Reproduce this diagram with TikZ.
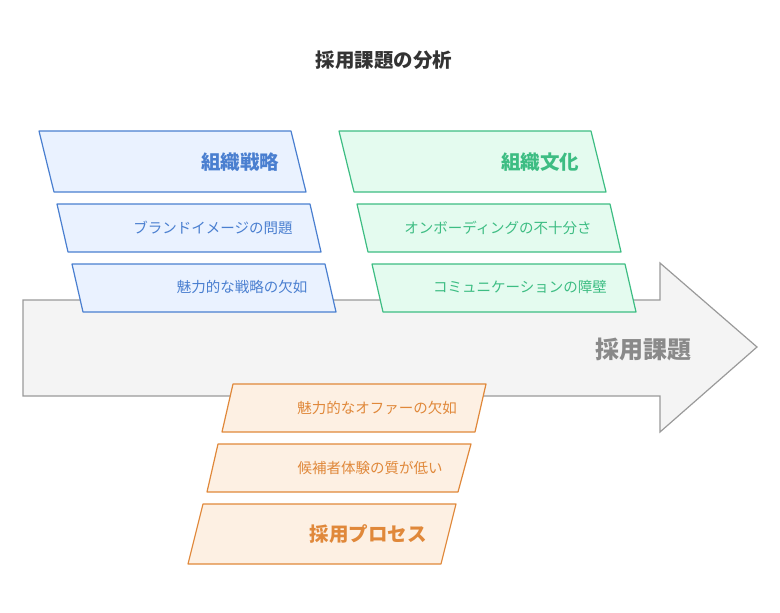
\documentclass[tikz,border=0pt]{standalone}
\usepackage{fontspec}
\setmainfont{Noto Sans CJK JP}
\newfontfamily\cjk{Noto Sans CJK JP}
\definecolor{bstroke}{HTML}{4A7FD0}
\definecolor{bfill}{HTML}{EAF2FF}
\definecolor{gstroke}{HTML}{3DBD83}
\definecolor{gfill}{HTML}{E4FBEF}
\definecolor{ostroke}{HTML}{E0883A}
\definecolor{ofill}{HTML}{FDF0E3}
\definecolor{arrfill}{HTML}{F4F4F4}
\definecolor{arrline}{HTML}{9A9A9A}
\definecolor{arrtext}{HTML}{8A8A8A}
\definecolor{titlec}{HTML}{333333}
\tikzset{
  pbox/.style={line width=1.2pt, line join=round},
  bluebox/.style={pbox, draw=bstroke, fill=bfill},
  greenbox/.style={pbox, draw=gstroke, fill=gfill},
  orangebox/.style={pbox, draw=ostroke, fill=ofill},
  headtxt/.style={font=\cjk\bfseries\fontsize{19.5}{22}\selectfont, inner sep=0pt},
  subtxt/.style={font=\cjk\fontsize{14.5}{17}\selectfont, inner sep=0pt},
}
\begin{document}
\begin{tikzpicture}[x=1pt,y=-1pt]
\useasboundingbox (0,0) rectangle (780,613);
% title
\node[font=\cjk\bfseries\fontsize{19.5}{22}\selectfont, text=titlec, inner sep=0pt] (title) at (384,60) {採用課題の分析};
% big arrow
\draw[draw=arrline, fill=arrfill, line width=1.2pt, line join=miter]
  (23,300) -- (660,300) -- (660,263) -- (757,347) -- (660,432) -- (660,396) -- (23,396) -- cycle;
\node[font=\cjk\bfseries\fontsize{24}{28}\selectfont, text=arrtext, inner sep=0pt] (main) at (643,349) {採用課題};
% blue
\draw[bluebox] (39,131) -- (291,131) -- (306,192) -- (54,192) -- cycle;
\node[headtxt, text=bstroke] (b1) at (240,162) {組織戦略};
\draw[bluebox] (57,204) -- (310,204) -- (321,252) -- (68,252) -- cycle;
\node[subtxt, text=bstroke] (b2) at (213,228) {ブランドイメージの問題};
\draw[bluebox] (72,264) -- (325,264) -- (336,312) -- (83,312) -- cycle;
\node[subtxt, text=bstroke] (b3) at (242,287) {魅力的な戦略の欠如};
% green
\draw[greenbox] (339,131) -- (591,131) -- (606,192) -- (354,192) -- cycle;
\node[headtxt, text=gstroke] (g1) at (540,162) {組織文化};
\draw[greenbox] (357,204) -- (610,204) -- (621,252) -- (368,252) -- cycle;
\node[subtxt, text=gstroke] (g2) at (498,228) {オンボーディングの不十分さ};
\draw[greenbox] (372,264) -- (625,264) -- (636,312) -- (383,312) -- cycle;
\node[subtxt, text=gstroke] (g3) at (520,287) {コミュニケーションの障壁};
% orange
\draw[orangebox] (233,384) -- (486,384) -- (475,432) -- (222,432) -- cycle;
\node[subtxt, text=ostroke] (o1) at (377,408) {魅力的なオファーの欠如};
\draw[orangebox] (218,444) -- (471,444) -- (458,492) -- (207,492) -- cycle;
\node[subtxt, text=ostroke] (o2) at (370,468) {候補者体験の質が低い};
\draw[orangebox] (203,504) -- (456,504) -- (441,564) -- (188,564) -- cycle;
\node[headtxt, text=ostroke] (o3) at (368,534) {採用プロセス};
\end{tikzpicture}
\end{document}
